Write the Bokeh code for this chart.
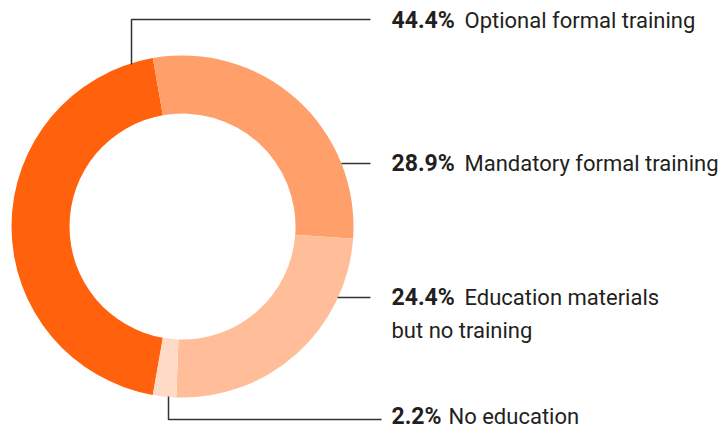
import math
from bokeh.plotting import figure
from bokeh.models import Range1d
from bokeh.core.properties import value
from bokeh.embed import file_html
from bokeh.resources import INLINE

# ---- data ----
categories = ["Optional formal training", "Mandatory formal training",
              "Education materials\nbut no training", "No education"]
pct_labels = ["44.4%", "28.9%", "24.4%", "2.2%"]
shares = [44.4, 28.9, 24.4, 2.2]
colors = ["#FF610D", "#FFA06A", "#FFBE99", "#FFDAC6"]

# ---- layout (page pixels, donut centre at origin, y up) ----
W, H = 721, 431
CX, CY = 182, 226
R_OUT, R_IN = 171, 113
START_CW = 190.0            # clockwise degrees from 12 o'clock where first slice starts

def px(x):
    return x - CX

def py(y):
    return CY - y

p = figure(width=W, height=H, output_backend="svg", toolbar_location=None,
           x_range=Range1d(px(0), px(W)), y_range=Range1d(py(H), py(0)),
           min_border=0, outline_line_color=None, background_fill_color="white",
           border_fill_color="white")
p.axis.visible = False
p.grid.visible = False

total = sum(shares)
starts, ends = [], []
a = START_CW
for s in shares:
    a0 = a
    a1 = a + 360.0 * s / total
    starts.append(math.radians(90 - a1))
    ends.append(math.radians(90 - a0))
    a = a1

p.annular_wedge(x=[0] * len(shares), y=[0] * len(shares), inner_radius=R_IN,
                outer_radius=R_OUT, start_angle=starts, end_angle=ends,
                fill_color=colors, line_color=None)

# ---- leader lines (page pixel coords) ----
line_col = "#333333"
leaders = [
    [(131, 64), (131, 19), (370, 19)],
    [(341, 163), (370, 163)],
    [(337, 297), (370, 297)],
    [(168, 396), (168, 419), (381, 419)],
]
for pts in leaders:
    p.line([px(x) for x, _ in pts], [py(y) for _, y in pts],
           line_color=line_col, line_width=1.5)

# ---- labels (vertical centres of the first text line) ----
FONT = value("Roboto")
TXT = "#231F20"
label_pos = [(391, 20), (391, 163), (391, 297), (391, 416)]
reg_x = [464, 464, 464, 448]
for i in range(len(shares)):
    bx, by = label_pos[i]
    p.text(x=[px(bx)], y=[py(by)], text=[pct_labels[i]], text_font=FONT,
           text_font_size="23px", text_font_style="bold", text_color=TXT,
           text_baseline="middle", text_align="left")
    lines = categories[i].split("\n")
    for j, ln in enumerate(lines):
        xx = reg_x[i] if j == 0 else bx
        p.text(x=[px(xx)], y=[py(by + 33 * j)], text=[ln], text_font=FONT,
               text_font_size="22px", text_color=TXT,
               text_baseline="middle", text_align="left")

open("out.html", "w").write(file_html(p, INLINE))
